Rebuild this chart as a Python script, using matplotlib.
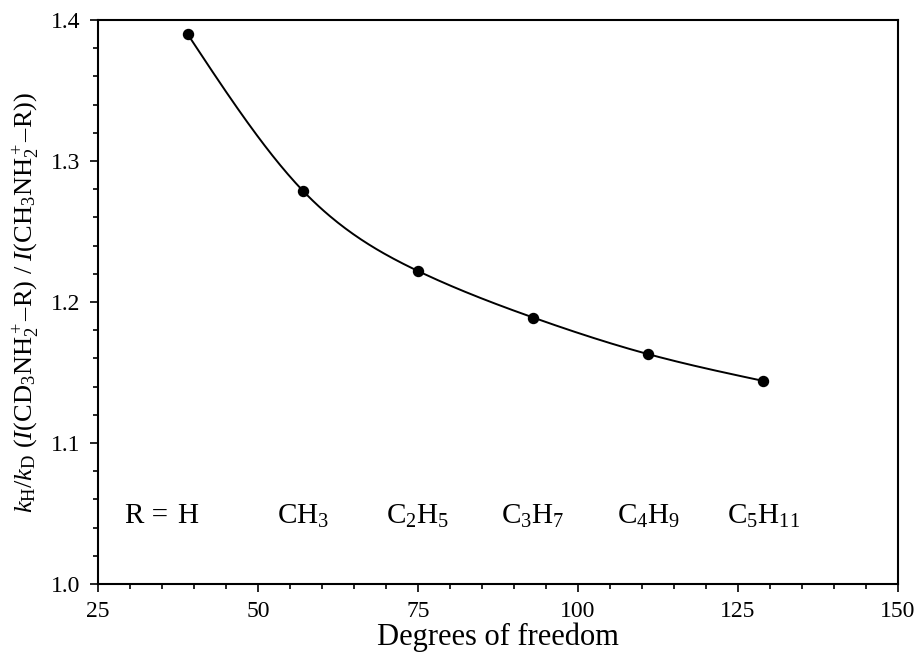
import numpy as np
import matplotlib

matplotlib.use("Agg")
import matplotlib.pyplot as plt
from matplotlib.ticker import MultipleLocator

# degrees of freedom of the CH3NH2+-R ions and the measured isotope ratio
dof = [39, 57, 75, 93, 111, 129]
ratio = [1.390, 1.279, 1.222, 1.189, 1.163, 1.144]
groups = ["H", r"CH$_3$", r"C$_2$H$_5$", r"C$_3$H$_7$", r"C$_4$H$_9$", r"C$_5$H$_{11}$"]
x_ticks = [25, 50, 75, 100, 125, 150]
y_ticks = [1.0, 1.1, 1.2, 1.3, 1.4]


def natural_spline(x, y, xs):
    x = np.asarray(x, float)
    y = np.asarray(y, float)
    n = len(x)
    h = np.diff(x)
    A = np.zeros((n, n))
    b = np.zeros(n)
    A[0, 0] = A[-1, -1] = 1.0
    for i in range(1, n - 1):
        A[i, i - 1] = h[i - 1]
        A[i, i] = 2 * (h[i - 1] + h[i])
        A[i, i + 1] = h[i]
        b[i] = 3 * ((y[i + 1] - y[i]) / h[i] - (y[i] - y[i - 1]) / h[i - 1])
    c = np.linalg.solve(A, b)
    out = np.empty_like(xs)
    for k, xv in enumerate(xs):
        i = min(np.searchsorted(x, xv, side="right") - 1, n - 2)
        i = max(i, 0)
        d = (c[i + 1] - c[i]) / (3 * h[i])
        bb = (y[i + 1] - y[i]) / h[i] - h[i] * (2 * c[i] + c[i + 1]) / 3
        t = xv - x[i]
        out[k] = y[i] + bb * t + c[i] * t ** 2 + d * t ** 3
    return out


plt.rcParams.update({
    "font.family": "Liberation Serif",
    "mathtext.fontset": "custom",
    "mathtext.rm": "Liberation Serif",
    "mathtext.it": "Liberation Serif:italic",
    "mathtext.bf": "Liberation Serif:bold",
    "xtick.labelsize": 17,
    "ytick.labelsize": 17,
})

fig = plt.figure(figsize=(9.17, 6.63), dpi=100)
ax = fig.add_axes([0.1069, 0.1192, 0.8721, 0.8506])

xs = np.linspace(dof[0], dof[-1], 300)
ax.plot(xs, natural_spline(dof, ratio, xs), color="black", lw=1.4)
ax.plot(dof, ratio, "o", color="black", ms=7.2)

for x, name in zip(dof, groups):
    ax.text(x, 1.043, name, ha="center", va="baseline", fontsize=21)
ax.text(dof[0] - 3.0, 1.043, "R =", ha="right", va="baseline", fontsize=21)

ax.set_xlim(25, 150)
ax.set_ylim(1.0, 1.4)
ax.set_xticks(x_ticks)
ax.set_yticks(y_ticks)
ax.set_yticklabels([f"{v:.1f}" for v in y_ticks], fontsize=17)
ax.set_xticklabels([str(v) for v in x_ticks], fontsize=17)
ax.xaxis.set_minor_locator(MultipleLocator(5))
ax.yaxis.set_minor_locator(MultipleLocator(0.02))
ax.tick_params(which="both", direction="out", top=False, right=False, width=1.2)
ax.tick_params(which="major", length=5.5, pad=7)
ax.tick_params(which="minor", length=3.8)
for s in ax.spines.values():
    s.set_linewidth(1.5)

ax.set_xlabel("Degrees of freedom", fontsize=22, labelpad=0)
ax.set_ylabel(r"$k_\mathrm{H}/k_\mathrm{D}$ ($I$(CD$_3$$\mathrm{NH}_2^+$–R) / $I$(CH$_3$$\mathrm{NH}_2^+$–R))",
              fontsize=19, labelpad=7)

fig.savefig("out.png", dpi=100)
